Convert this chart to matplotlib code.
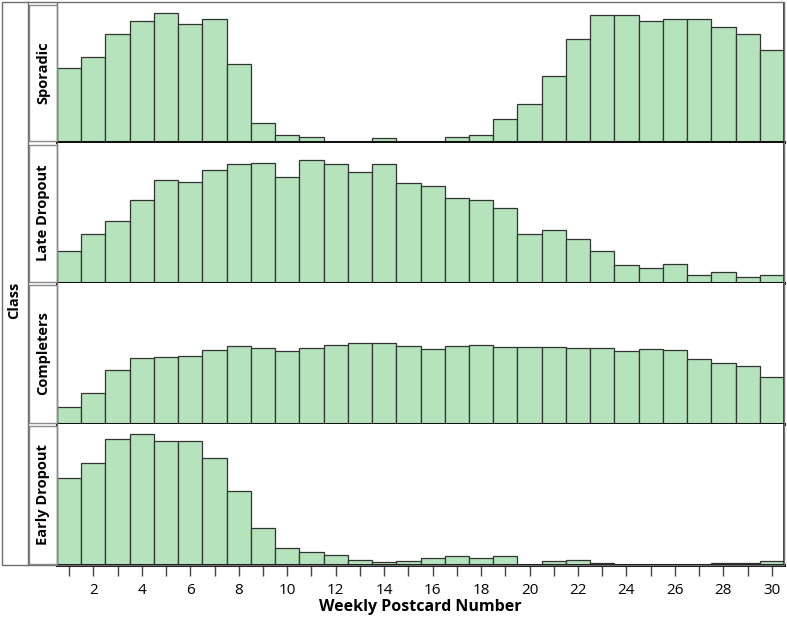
import matplotlib
matplotlib.use("Agg")
import matplotlib.pyplot as plt
from matplotlib.patches import Rectangle

plt.rcParams['font.family'] = ['Open Sans', 'DejaVu Sans']

weeks = list(range(1, 31))
classes = ["Sporadic", "Late Dropout", "Completers", "Early Dropout"]

sporadic = [74, 85, 108, 121, 129, 118, 123, 78, 19, 7, 5, 0, 0, 4, 0,
            0, 5, 7, 23, 38, 66, 103, 127, 127, 121, 123, 123, 115, 108, 92]
late_dropout = [32, 49, 62, 82, 102, 100, 112, 118, 119, 105, 122, 118, 110, 118, 99,
                96, 84, 82, 74, 49, 53, 44, 32, 18, 15, 19, 8, 11, 6, 8]
completers = [17, 31, 53, 65, 66, 67, 73, 77, 75, 72, 75, 78, 80, 80, 77,
              74, 77, 78, 76, 76, 76, 75, 75, 72, 74, 73, 64, 60, 57, 46]
early_dropout = [86, 101, 124, 129, 122, 122, 105, 73, 36, 17, 13, 10, 5, 3, 4,
                 7, 9, 7, 9, 0, 4, 5, 2, 0, 0, 0, 0, 2, 2, 4]
series = [sporadic, late_dropout, completers, early_dropout]

major_ticks = list(range(2, 31, 2))
minor_ticks = list(range(1, 31))
xlabel = "Weekly Postcard Number"
ylabel = "Class"

W, H = 787, 622
fig = plt.figure(figsize=(W / 100, H / 100), dpi=100)

def fx(x):
    return x / W

def fy(y):
    return 1 - y / H

panel_px = [(3, 142), (143, 283), (283, 424), (424, 565)]
left_px, right_px = 57, 784
bar_color = "#b4e3bc"
edge_color = "#333333"
frame_color = "#6e6e6e"

# outer frame and class column
fig.patches.append(Rectangle((fx(2), fy(565)), fx(782), 563 / H, transform=fig.transFigure,
                             fill=False, edgecolor=frame_color, linewidth=1.0))
fig.lines.append(plt.Line2D([fx(28), fx(28)], [fy(565), fy(2)], transform=fig.transFigure,
                            color=frame_color, linewidth=1.0))
fig.text(fx(14), fy(300), ylabel, rotation=90, ha="center", va="center",
         fontsize=10.5, fontweight="bold")

for i, (name, vals) in enumerate(zip(classes, series)):
    top, bot = panel_px[i]
    ax = fig.add_axes([fx(left_px), fy(bot), (right_px - left_px) / W, (bot - top) / H])
    ax.bar(weeks, vals, width=1.0, color=bar_color, edgecolor=edge_color, linewidth=0.9)
    ax.set_xlim(0.5, 30.5)
    ax.set_ylim(0, 139)
    ax.set_yticks([])
    ax.spines['top'].set_visible(False)
    ax.spines['left'].set_color(frame_color)
    ax.spines['left'].set_linewidth(1.0)
    ax.spines['right'].set_color("#222222")
    ax.spines['right'].set_linewidth(1.2)
    ax.spines['bottom'].set_color("#111111")
    ax.spines['bottom'].set_linewidth(2.2)
    if i < 3:
        ax.set_xticks([])
    else:
        ax.set_xticks(major_ticks)
        ax.set_xticklabels([str(t) for t in major_ticks], fontsize=11)
        ax.set_xticks(minor_ticks, minor=True)
        ax.tick_params(axis='x', which='both', direction='out', length=8, width=1.0,
                       color="#444444", pad=5)
        ax.set_xlabel(xlabel, fontsize=11.5, fontweight="bold", labelpad=1)
    # strip label box
    fig.patches.append(Rectangle((fx(29), fy(bot - 1)), (left_px - 29) / W, (bot - top - 3) / H,
                                 transform=fig.transFigure, fill=False,
                                 edgecolor="#8a8a8a", linewidth=1.0))
    fig.text(fx(43), fy((top + bot) / 2), name, rotation=90, ha="center", va="center",
             fontsize=10.5, fontweight="bold")

fig.savefig("out.png", dpi=100)
